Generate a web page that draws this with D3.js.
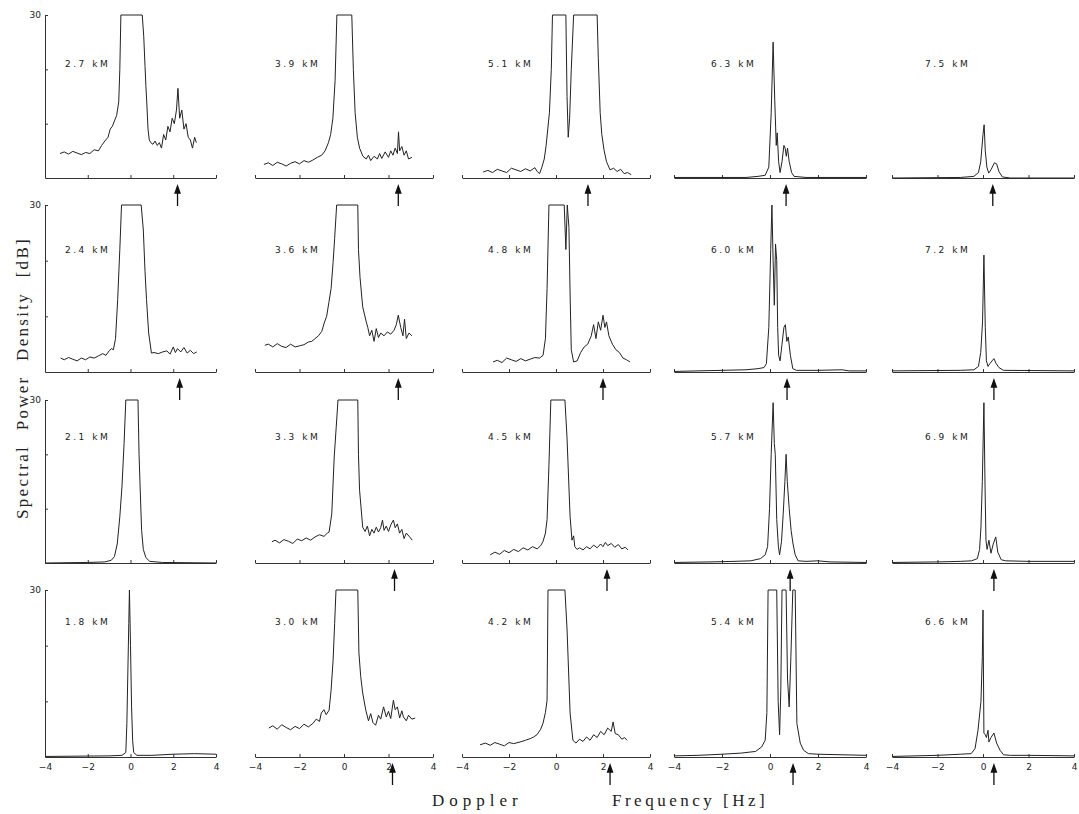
<!DOCTYPE html>
<html>
<head>
<meta charset="utf-8">
<script src="https://cdn.jsdelivr.net/npm/d3@7"></script>
<style>
  body { margin: 0; background: #fff; }
  .spec { fill: none; stroke: #222; stroke-width: 1; }
  .axis path, .axis line { stroke: #333; stroke-width: 1; }
  .axis text { font-family: "DejaVu Sans", sans-serif; font-size: 9px; fill: #222; }
  .km { font-family: "DejaVu Sans", sans-serif; font-size: 9px; letter-spacing: 2.5px; fill: #222; }
  .arrow { stroke: #111; stroke-width: 1.3; fill: #111; }
  .big-label { font-family: "Liberation Serif", serif; font-size: 17px; fill: #222; }
</style>
</head>
<body>
<div id="chart"></div>
<script>
// 1: DATA
// heights of each panel (rows top -> bottom, columns left -> right)
const heights = [
  ["2.7", "3.9", "5.1", "6.3", "7.5"],
  ["2.4", "3.6", "4.8", "6.0", "7.2"],
  ["2.1", "3.3", "4.5", "5.7", "6.9"],
  ["1.8", "3.0", "4.2", "5.4", "6.6"]
];

// spectra: [doppler frequency (Hz), power (dB)] ; values >= 30 are clipped
const spec27 = [[-3.3,4.5],[-3.1,4.8],[-2.9,4.4],[-2.7,4.9],[-2.5,4.6],[-2.3,4.3],[-2.1,4.7],[-1.9,4.5],[-1.7,5.2],[-1.5,5.0],[-1.35,6.0],[-1.2,6.8],[-1.05,7.5],[-0.95,9.0],[-0.85,9.5],[-0.75,10.5],[-0.65,11.5],[-0.55,14.0],[-0.5,20.0],[-0.45,30],[0.55,30],[0.62,26],[0.68,20.5],[0.72,17],[0.76,14],[0.82,9],[0.88,7],[0.95,6.5],[1.05,6.2],[1.15,6.8],[1.25,6.0],[1.35,6.5],[1.45,5.5],[1.55,8.0],[1.65,7.0],[1.75,9.5],[1.85,8.5],[1.95,11.0],[2.05,10.0],[2.15,12.5],[2.22,16.5],[2.3,11],[2.4,12.5],[2.5,9.0],[2.6,10.0],[2.7,7.5],[2.8,7.0],[2.9,5.5],[3.0,7.5],[3.08,6.5]];
const spec39 = [[-3.6,2.5],[-3.4,2.8],[-3.2,2.3],[-3.0,2.9],[-2.8,2.6],[-2.6,2.2],[-2.4,2.7],[-2.2,3.0],[-2.0,2.6],[-1.8,3.2],[-1.6,2.9],[-1.4,3.3],[-1.2,3.8],[-1.0,4.2],[-0.85,5.0],[-0.7,6.5],[-0.6,8.0],[-0.5,11],[-0.4,18],[-0.32,30],[0.35,30],[0.42,20],[0.5,12],[0.6,7.5],[0.7,5.5],[0.85,4.0],[1.0,3.5],[1.1,4.2],[1.2,3.2],[1.35,4.0],[1.5,3.5],[1.6,4.5],[1.7,3.6],[1.85,4.8],[2.0,3.8],[2.1,5.0],[2.2,4.2],[2.3,5.5],[2.4,4.5],[2.45,8.5],[2.5,5.0],[2.6,5.8],[2.7,4.2],[2.8,5.0],[2.9,3.5],[3.05,3.8]];
const spec51 = [[-3.1,1.1],[-2.9,1.4],[-2.7,1.0],[-2.5,1.6],[-2.3,1.3],[-2.1,1.0],[-1.9,1.8],[-1.7,1.5],[-1.5,1.2],[-1.3,1.7],[-1.1,1.3],[-0.9,1.9],[-0.8,1.2],[-0.7,0.8],[-0.6,2.0],[-0.5,3.5],[-0.42,6],[-0.35,9],[-0.28,12],[-0.2,20],[-0.15,30],[0.42,30],[0.47,15],[0.52,7.5],[0.58,11],[0.65,20],[0.75,30],[1.75,30],[1.8,22],[1.88,12],[1.95,8],[2.05,5],[2.15,3],[2.3,1.5],[2.45,1.8],[2.6,1.2],[2.75,1.6],[2.9,0.8],[3.05,1.0],[3.2,0.6]];
const spec63 = [[-4,0.1],[-1.0,0.1],[-0.5,0.3],[-0.2,0.5],[-0.05,2],[0.05,12],[0.13,25],[0.2,14],[0.26,6],[0.3,8.3],[0.36,3],[0.42,1.0],[0.5,3],[0.58,6],[0.63,5.5],[0.68,4],[0.73,5.5],[0.8,3],[0.9,1],[1.0,0.3],[1.5,0.1],[4,0.1]];
const spec75 = [[-4,0],[-1,0.1],[-0.4,0.3],[-0.2,1],[-0.1,3],[0,8],[0.05,9.8],[0.1,5],[0.17,2],[0.25,0.9],[0.35,1.5],[0.5,2.8],[0.6,2.6],[0.7,1.2],[0.85,0.2],[1.2,0],[4,0]];

const spec24 = [[-3.27,2.5],[-3.1,2.2],[-2.9,2.6],[-2.7,2.3],[-2.5,2.0],[-2.3,2.5],[-2.1,2.2],[-1.9,2.7],[-1.7,2.5],[-1.5,2.9],[-1.3,3.3],[-1.15,3.0],[-1.0,3.8],[-0.9,4.2],[-0.8,4.0],[-0.7,6],[-0.6,13],[-0.5,22],[-0.42,30],[0.5,30],[0.6,25.5],[0.68,18],[0.75,13],[0.85,7],[0.98,3.4],[1.1,3.5],[1.3,3.3],[1.5,3.6],[1.7,3.8],[1.85,3.2],[2.0,4.5],[2.1,3.5],[2.2,4.2],[2.35,3.6],[2.5,4.4],[2.65,3.4],[2.8,3.9],[2.95,3.3],[3.1,3.6]];
const spec36 = [[-3.56,4.8],[-3.4,5.0],[-3.2,4.5],[-3.0,5.1],[-2.8,4.6],[-2.6,4.4],[-2.4,5.0],[-2.2,4.5],[-2.0,4.7],[-1.8,4.9],[-1.6,5.4],[-1.45,5.5],[-1.3,6.0],[-1.15,6.5],[-1.0,7.3],[-0.89,8.8],[-0.78,10],[-0.68,12.5],[-0.58,15],[-0.49,19.7],[-0.42,24],[-0.33,30],[0.62,30],[0.65,22],[0.72,17],[0.84,11.7],[1.0,9],[1.07,8],[1.15,6.5],[1.25,7.5],[1.35,5.5],[1.45,7.8],[1.55,6.2],[1.65,7.0],[1.8,6.5],[1.95,7.2],[2.1,6.8],[2.25,7.5],[2.35,8.5],[2.44,10.2],[2.55,8.0],[2.65,6.5],[2.72,9.5],[2.8,6.0],[2.92,7.0],[3.05,6.5]];
const spec48 = [[-2.68,1.8],[-2.5,2.1],[-2.3,1.7],[-2.1,2.5],[-1.9,2.2],[-1.7,1.9],[-1.5,2.4],[-1.3,2.0],[-1.1,2.3],[-0.9,2.6],[-0.7,2.5],[-0.55,3.0],[-0.45,6],[-0.38,15],[-0.3,30],[0.35,30],[0.42,22],[0.48,30],[0.55,26],[0.6,14],[0.65,4],[0.75,1.8],[0.9,2.0],[1.05,3.5],[1.2,4.5],[1.35,5.0],[1.5,6.5],[1.6,8.5],[1.7,6],[1.8,9],[1.9,7.5],[2.0,10.2],[2.08,8],[2.15,9],[2.25,6.5],[2.4,5.0],[2.55,4.0],[2.7,3.5],[2.85,2.5],[3.0,2.2],[3.15,1.8]];
const spec60 = [[-4,0.1],[-3.0,0.2],[-2.0,0.3],[-1.0,0.4],[-0.5,0.6],[-0.25,0.8],[-0.15,1.5],[-0.05,8],[0.03,22],[0.08,30],[0.13,20],[0.18,12],[0.23,23],[0.28,20],[0.32,8],[0.36,3],[0.42,2],[0.5,5],[0.58,8],[0.64,8.5],[0.7,5.5],[0.76,6.3],[0.85,3],[0.95,0.6],[1.1,0.3],[2.0,0.3],[3.0,0.4],[3.3,0.2],[4,0.2]];
const spec72 = [[-4,0.2],[-1,0.3],[-0.4,0.4],[-0.2,1],[-0.1,3.5],[-0.02,9],[0.04,21],[0.1,8],[0.15,2],[0.22,1.0],[0.3,1.5],[0.4,2.0],[0.48,2.4],[0.58,1.5],[0.7,0.8],[0.9,0.3],[4,0.2]];

const spec21 = [[-4,0],[-2,0.1],[-1.2,0.2],[-0.9,0.5],[-0.75,1.2],[-0.62,3.5],[-0.5,8.5],[-0.4,14],[-0.3,22],[-0.22,30],[0.35,30],[0.4,20],[0.45,14],[0.52,6],[0.6,2.5],[0.72,1.0],[0.9,0.3],[1.5,0.1],[4,0]];
const spec33 = [[-3.24,3.9],[-3.1,4.2],[-2.9,3.7],[-2.7,4.3],[-2.5,4.0],[-2.3,3.6],[-2.1,4.4],[-1.9,4.1],[-1.7,4.6],[-1.5,4.2],[-1.3,4.8],[-1.1,5.2],[-0.9,4.9],[-0.75,5.5],[-0.67,5.7],[-0.55,9],[-0.44,19.5],[-0.35,25],[-0.27,30],[0.62,30],[0.65,20],[0.7,13.4],[0.84,6.6],[0.95,5.8],[1.05,6.8],[1.15,5.0],[1.25,6.2],[1.35,5.5],[1.45,6.6],[1.55,5.7],[1.65,6.5],[1.73,7.9],[1.8,6.0],[1.9,6.8],[2.0,5.8],[2.1,7.0],[2.22,7.9],[2.3,6.5],[2.4,7.2],[2.5,5.5],[2.6,6.2],[2.7,4.5],[2.8,5.5],[2.95,4.8],[3.07,4.2]];
const spec45 = [[-2.8,1.5],[-2.6,2.0],[-2.4,1.6],[-2.2,2.3],[-2.0,1.9],[-1.8,2.5],[-1.6,2.1],[-1.4,2.8],[-1.2,2.4],[-1.0,3.0],[-0.8,2.6],[-0.65,3.2],[-0.55,4.0],[-0.45,5.5],[-0.38,8],[-0.3,18],[-0.22,30],[0.38,30],[0.47,23],[0.6,8.5],[0.68,4.2],[0.75,5.0],[0.8,3.0],[0.9,2.5],[1.0,2.8],[1.15,2.4],[1.3,3.0],[1.45,2.6],[1.6,3.3],[1.75,2.8],[1.9,3.5],[2.0,3.0],[2.1,3.8],[2.2,3.2],[2.35,3.6],[2.5,2.9],[2.65,3.4],[2.8,2.6],[2.95,2.9],[3.06,2.4]];
const spec57 = [[-4,0.1],[-2.5,0.2],[-1.5,0.3],[-0.8,0.4],[-0.4,0.8],[-0.2,1.5],[-0.1,3],[-0.02,10],[0.05,20],[0.13,29.5],[0.18,22],[0.22,20],[0.28,8],[0.35,3],[0.4,1.5],[0.48,4],[0.55,9],[0.62,15],[0.67,20],[0.72,15],[0.8,10],[0.88,6],[0.96,3.5],[1.05,1.5],[1.17,0.4],[1.5,0.3],[2.0,0.4],[2.5,0.2],[4,0.1]];
const spec69 = [[-4,0.1],[-2,0.2],[-1,0.3],[-0.5,0.4],[-0.25,0.8],[-0.15,2.5],[-0.09,6.6],[-0.03,15],[0.04,29.5],[0.09,14],[0.13,4.2],[0.18,2.5],[0.26,4.2],[0.35,1.8],[0.45,3.5],[0.56,4.8],[0.65,2.0],[0.8,0.6],[1.0,0.4],[2,0.3],[4,0.3]];

const spec18 = [[-4,0.1],[-1,0.2],[-0.4,0.3],[-0.22,0.8],[-0.17,6],[-0.12,16],[-0.08,24],[-0.05,30],[0.0,20],[0.05,9],[0.1,3],[0.15,0.8],[0.3,0.3],[1.0,0.3],[2.0,0.5],[3.0,0.6],[4,0.5]];
const spec30 = [[-3.38,5.2],[-3.2,5.6],[-3.0,5.0],[-2.8,5.8],[-2.6,5.3],[-2.4,4.9],[-2.2,5.5],[-2.0,5.1],[-1.8,5.9],[-1.6,5.4],[-1.38,6.1],[-1.25,6.8],[-1.1,6.4],[-1.02,7.9],[-0.9,8.5],[-0.8,7.6],[-0.67,8.4],[-0.58,12],[-0.49,17.4],[-0.42,24],[-0.36,30],[0.62,30],[0.67,18.7],[0.75,14.5],[0.84,11.5],[0.98,8.4],[1.1,6.5],[1.2,7.8],[1.3,6.2],[1.42,5.7],[1.55,7.5],[1.65,6.8],[1.78,9],[1.9,7.2],[2.0,8.2],[2.1,6.9],[2.22,10.2],[2.3,8.5],[2.4,9.0],[2.5,7.0],[2.6,8.3],[2.67,7.2],[2.8,6.5],[2.9,7.5],[3.05,6.8],[3.2,7.0]];
const spec42 = [[-3.23,2.2],[-3.0,2.5],[-2.8,2.1],[-2.6,2.6],[-2.4,2.3],[-2.2,2.0],[-2.0,2.6],[-1.8,2.4],[-1.53,2.7],[-1.3,3.0],[-1.1,3.3],[-0.95,3.6],[-0.81,4.0],[-0.65,5.0],[-0.55,6.1],[-0.45,8],[-0.38,10.2],[-0.34,30],[0.38,30],[0.47,23],[0.6,7.9],[0.72,3.0],[0.85,2.5],[1.0,3.2],[1.15,2.8],[1.3,3.6],[1.45,3.0],[1.6,4.0],[1.75,3.5],[1.9,4.6],[2.05,4.0],[2.2,5.2],[2.35,4.6],[2.43,6.3],[2.52,4.2],[2.65,4.0],[2.8,3.2],[2.92,3.5],[3.02,3.0]];
const spec54 = [[-4,0.2],[-3,0.3],[-2,0.5],[-1.2,0.7],[-0.6,1.0],[-0.35,1.8],[-0.2,3],[-0.13,8],[-0.08,30],[0.28,30],[0.34,10],[0.4,4],[0.45,12],[0.5,30],[0.67,30],[0.73,14],[0.8,9],[0.87,18],[0.95,30],[1.05,30],[1.12,6],[1.26,2.5],[1.4,1.2],[1.6,0.6],[2.0,0.5],[3,0.4],[4,0.3]];
const spec66 = [[-4,0.1],[-2,0.3],[-1,0.5],[-0.52,0.6],[-0.35,1.5],[-0.22,4.8],[-0.09,10],[-0.03,18],[0.0,26.4],[0.04,4.3],[0.1,4.0],[0.15,3.5],[0.22,4.8],[0.26,2.7],[0.35,3.5],[0.48,4.3],[0.6,2.5],[0.75,1.2],[0.9,0.4],[1.2,0.3],[2,0.3],[4,0.2]];

const spectra = [
  [spec27, spec39, spec51, spec63, spec75],
  [spec24, spec36, spec48, spec60, spec72],
  [spec21, spec33, spec45, spec57, spec69],
  [spec18, spec30, spec42, spec54, spec66]
];

// arrow position (Hz) under each panel, null = no arrow
const arrowsHz = [
  [2.2, 2.44, 1.36, 0.67, 0.43],
  [2.3, 2.44, 2.0, 0.71, 0.48],
  [null, 2.27, 2.17, 0.84, 0.48],
  [null, 2.18, 2.3, 0.96, 0.48]
];

const xTicks = [-4, -2, 0, 2, 4];
const yTicks = [10, 20, 30];

// 2: LAYOUT
const W = 1079, H = 814;
const colRange = [[45, 216], [255, 433], [462, 650], [674, 866], [892, 1074]]; // px for -4..4 Hz
const rowRange = [[15, 178], [205, 372], [400, 563], [590, 757]];               // px for 30..0 dB
const labelDx = [20, 20, 26, 37, 33];
const labelDy = [52, 48, 40, 35];

const svg = d3.select("#chart")
  .append("svg")
  .attr("width", W)
  .attr("height", H);

const line = (x, y) => d3.line().x(d => x(d[0])).y(d => y(d[1]));

// 3: PANELS
spectra.forEach((row, r) => {
  row.forEach((data, c) => {
    const x = d3.scaleLinear().domain([-4, 4]).range(colRange[c]);
    const y = d3.scaleLinear().domain([0, 30]).range([rowRange[r][1], rowRange[r][0]]).clamp(true);
    const g = svg.append("g");

    // x axis
    const xAxis = d3.axisBottom(x)
      .tickValues(xTicks)
      .tickSizeInner(-3)
      .tickSizeOuter(0)
      .tickPadding(7)
      .tickFormat(r === 3 ? d3.format("") : "");
    g.append("g")
      .attr("class", "axis")
      .attr("transform", `translate(0,${rowRange[r][1]})`)
      .call(xAxis);

    // y axis only in first column
    if (c === 0) {
      g.append("g")
        .attr("class", "axis")
        .attr("transform", `translate(${colRange[c][0]},0)`)
        .call(d3.axisLeft(y)
          .tickValues(yTicks)
          .tickSizeInner(-3)
          .tickSizeOuter(0)
          .tickPadding(4)
          .tickFormat(d => d === 30 ? "30" : ""));
    }

    // spectrum
    g.append("path")
      .datum(data)
      .attr("class", "spec")
      .attr("d", line(x, y));

    // height label
    g.append("text")
      .attr("class", "km")
      .attr("x", colRange[c][0] + labelDx[c])
      .attr("y", rowRange[r][0] + labelDy[r])
      .text(heights[r][c] + " kM");

    // arrow
    const a = arrowsHz[r][c];
    if (a !== null) {
      const ax = x(a);
      const top = r === 3 ? 765 : rowRange[r][1] + 8;
      const bot = top + 20;
      g.append("line")
        .attr("class", "arrow")
        .attr("x1", ax).attr("x2", ax)
        .attr("y1", bot).attr("y2", top + 4);
      g.append("path")
        .attr("class", "arrow")
        .attr("d", `M${ax},${top} L${ax - 2.5},${top + 7} L${ax + 2.5},${top + 7} Z`);
    }
  });
});

// 4: AXIS LABELS
svg.append("text")
  .attr("class", "big-label")
  .attr("transform", "translate(28,378) rotate(-90)")
  .attr("text-anchor", "middle")
  .style("letter-spacing", "2.3px")
  .style("word-spacing", "8px")
  .text("Spectral Power Density [dB]");

svg.append("text")
  .attr("class", "big-label")
  .attr("x", 432)
  .attr("y", 806)
  .style("letter-spacing", "5px")
  .text("Doppler");

svg.append("text")
  .attr("class", "big-label")
  .attr("x", 612)
  .attr("y", 806)
  .style("letter-spacing", "3.5px")
  .text("Frequency [Hz]");
</script>
</body>
</html>
